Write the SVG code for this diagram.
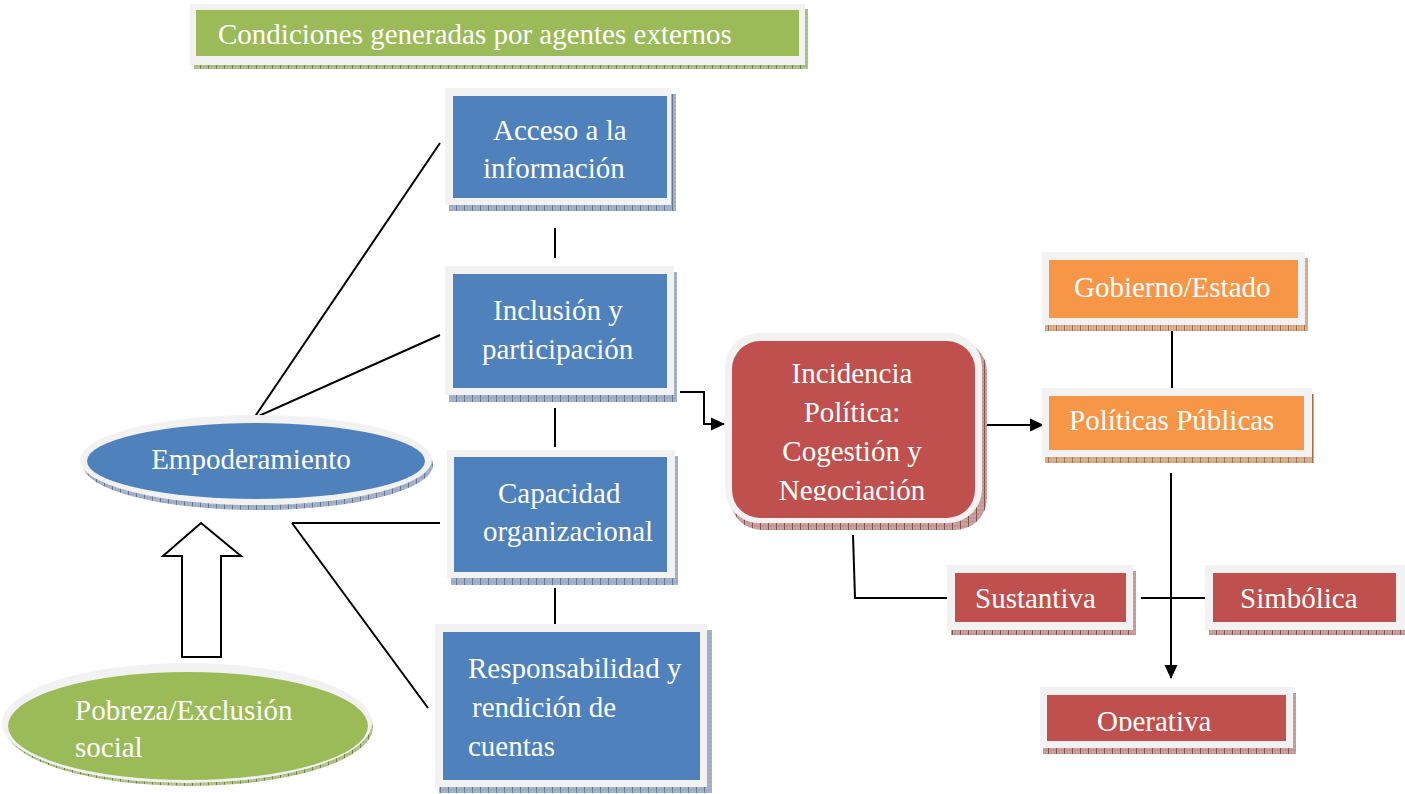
<svg xmlns="http://www.w3.org/2000/svg" width="1405" height="794" viewBox="0 0 1405 794">
<style>
text{font-family:"Liberation Serif","Times New Roman",serif;font-size:29px;fill:#ffffff}
.frame{fill:#f2f2f2}
.blue{fill:#4f81bd}
.green{fill:#9bbb59}
.red{fill:#c0504d}
.orange{fill:#f79646}
.ln{stroke:#000;stroke-width:2;fill:none}
.mid{text-anchor:middle}
</style>
<defs>
<pattern id="shB" width="8" height="4" patternUnits="userSpaceOnUse"><rect width="8" height="4" fill="#a7b3c7"/><line x1="0.5" y1="0" x2="0.5" y2="4" stroke="#5f7396" stroke-width="1"/><line x1="0" y1="2" x2="8" y2="2" stroke="#8797b2" stroke-width="0.5"/></pattern>
<pattern id="shG" width="8" height="4" patternUnits="userSpaceOnUse"><rect width="8" height="4" fill="#b3c490"/><line x1="0.5" y1="0" x2="0.5" y2="4" stroke="#6b8040" stroke-width="1"/><line x1="0" y1="2" x2="8" y2="2" stroke="#8da060" stroke-width="0.5"/></pattern>
<pattern id="shR" width="8" height="4" patternUnits="userSpaceOnUse"><rect width="8" height="4" fill="#c7a3a2"/><line x1="0.5" y1="0" x2="0.5" y2="4" stroke="#8a4a48" stroke-width="1"/><line x1="0" y1="2" x2="8" y2="2" stroke="#a87574" stroke-width="0.5"/></pattern>
<pattern id="shO" width="8" height="4" patternUnits="userSpaceOnUse"><rect width="8" height="4" fill="#d9b394"/><line x1="0.5" y1="0" x2="0.5" y2="4" stroke="#a06a40" stroke-width="1"/><line x1="0" y1="2" x2="8" y2="2" stroke="#bf8e66" stroke-width="0.5"/></pattern>
<marker id="arr" markerWidth="14" markerHeight="14" refX="13" refY="7" orient="auto" markerUnits="userSpaceOnUse" viewBox="0 0 14 14"><path d="M0,0.5 L14,7 L0,13.5 Z" fill="#000"/></marker>
<clipPath id="clipNeg"><rect x="700" y="300" width="300" height="201"/></clipPath>
<clipPath id="clipOp"><rect x="1000" y="680" width="320" height="51"/></clipPath>
<clipPath id="clipSoc"><rect x="0" y="650" width="400" height="107"/></clipPath>
</defs>

<g id="connectors">
<line class="ln" x1="254" y1="418" x2="440" y2="143"/>
<line class="ln" x1="254" y1="418" x2="440" y2="335"/>
<line class="ln" x1="292" y1="523" x2="440" y2="523"/>
<line class="ln" x1="292" y1="523" x2="428" y2="708"/>
<line class="ln" x1="555" y1="228" x2="555" y2="258"/>
<line class="ln" x1="555" y1="408" x2="555" y2="447"/>
<line class="ln" x1="555" y1="588" x2="555" y2="625"/>
<polyline class="ln" points="680,392 704,392 704,424 724,424" marker-end="url(#arr)"/>
<line class="ln" x1="983" y1="425" x2="1043" y2="425" marker-end="url(#arr)"/>
<line class="ln" x1="1172" y1="325" x2="1172" y2="388"/>
<line class="ln" x1="1171" y1="473" x2="1171" y2="678" marker-end="url(#arr)"/>
<line class="ln" x1="1141" y1="598" x2="1210" y2="598"/>
<polyline class="ln" points="853,535 855,598 952,598"/>
<polygon points="201,523 241,556 221,556 221,657 182,657 182,556 163,556" fill="#fff" stroke="#000" stroke-width="2" stroke-linejoin="miter"/>
</g>

<g id="condiciones">
<rect x="194" y="9" width="614" height="60" fill="url(#shG)"/>
<rect class="frame" x="190" y="4" width="615" height="61"/>
<rect class="green" x="196" y="10" width="603" height="46"/>
<text x="218" y="44">Condiciones generadas por agentes externos</text>
</g>

<g id="acceso">
<rect x="449" y="94" width="227" height="117" fill="url(#shB)"/>
<rect class="frame" x="445" y="88" width="226" height="117"/>
<rect class="blue" x="453" y="96" width="214" height="102"/>
<text x="493" y="140">Acceso a la</text>
<text x="483" y="178">información</text>
</g>

<g id="inclusion">
<rect x="449" y="272" width="228" height="130" fill="url(#shB)"/>
<rect class="frame" x="445" y="266" width="229" height="129"/>
<rect class="blue" x="453" y="274" width="214" height="114"/>
<text x="493" y="320">Inclusión y</text>
<text x="482" y="359">participación</text>
</g>

<g id="capacidad">
<rect x="451" y="456" width="227" height="129" fill="url(#shB)"/>
<rect class="frame" x="447" y="450" width="228" height="128"/>
<rect class="blue" x="454" y="457" width="213" height="115"/>
<text x="498" y="503">Capacidad</text>
<text x="483" y="541">organizacional</text>
</g>

<g id="responsabilidad">
<rect x="439" y="630" width="273" height="163" fill="url(#shB)"/>
<rect class="frame" x="435" y="624" width="272" height="163"/>
<rect class="blue" x="443" y="632" width="257" height="148"/>
<text x="468" y="678">Responsabilidad y</text>
<text x="472" y="717">rendición de</text>
<text x="468" y="756">cuentas</text>
</g>

<g id="empoderamiento">
<ellipse cx="258" cy="465" rx="175" ry="45" fill="url(#shB)"/>
<ellipse class="frame" cx="256" cy="460" rx="176" ry="45"/>
<ellipse class="blue" cx="256" cy="461" rx="169" ry="38"/>
<text class="mid" x="251" y="469">Empoderamiento</text>
</g>

<g id="pobreza">
<ellipse cx="189" cy="727" rx="184" ry="59" fill="url(#shG)"/>
<ellipse class="frame" cx="187" cy="723" rx="185" ry="60"/>
<ellipse class="green" cx="188" cy="726" rx="180" ry="54"/>
<text x="75" y="720">Pobreza/Exclusión</text>
<text x="75" y="757" clip-path="url(#clipSoc)">social</text>
</g>

<g id="incidencia">
<rect x="730" y="340" width="257" height="190" rx="32" fill="url(#shR)"/>
<rect class="frame" x="725" y="333" width="257" height="190" rx="34"/>
<rect class="red" x="732" y="341" width="243" height="177" rx="28"/>
<text class="mid" x="852" y="383">Incidencia</text>
<text class="mid" x="852" y="422">Política:</text>
<text class="mid" x="852" y="461">Cogestión y</text>
<text class="mid" x="852" y="500" clip-path="url(#clipNeg)">Negociación</text>
</g>

<g id="gobierno">
<rect x="1045" y="258" width="263" height="73" fill="url(#shO)"/>
<rect class="frame" x="1042" y="252" width="263" height="73"/>
<rect class="orange" x="1049" y="260" width="249" height="58"/>
<text x="1074" y="297">Gobierno/Estado</text>
</g>

<g id="politicas">
<rect x="1045" y="394" width="269" height="69" fill="url(#shO)"/>
<rect class="frame" x="1042" y="388" width="270" height="69"/>
<rect class="orange" x="1049" y="396" width="255" height="54"/>
<text x="1069" y="430">Políticas Públicas</text>
</g>

<g id="sustantiva">
<rect x="951" y="571" width="185" height="64" fill="url(#shR)"/>
<rect class="frame" x="947" y="565" width="186" height="65"/>
<rect class="red" x="955" y="573" width="171" height="49"/>
<text x="975" y="608">Sustantiva</text>
</g>

<g id="simbolica">
<rect x="1209" y="571" width="196" height="64" fill="url(#shR)"/>
<rect class="frame" x="1205" y="565" width="200" height="65"/>
<rect class="red" x="1213" y="573" width="183" height="49"/>
<text x="1240" y="608">Simbólica</text>
</g>

<g id="operativa">
<rect x="1043" y="693" width="253" height="61" fill="url(#shR)"/>
<rect class="frame" x="1040" y="687" width="253" height="61"/>
<rect class="red" x="1047" y="695" width="239" height="46"/>
<text x="1097" y="731" clip-path="url(#clipOp)">Operativa</text>
</g>
</svg>
